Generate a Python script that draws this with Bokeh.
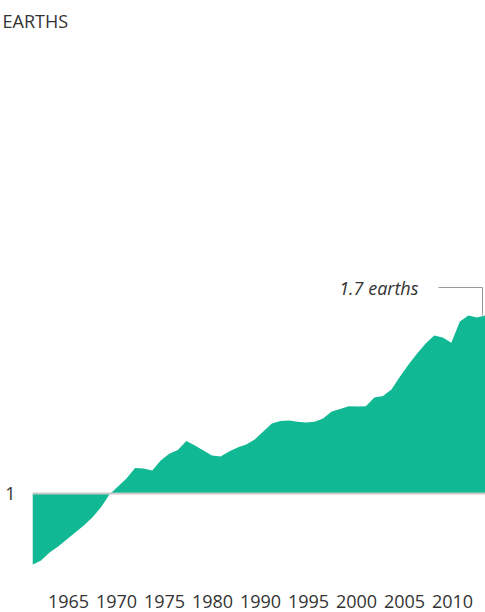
from bokeh.plotting import figure
from bokeh.models import Range1d, LinearAxis, FixedTicker, Span
from bokeh.core.properties import value
from bokeh.embed import file_html
from bokeh.resources import INLINE

# ---- data ----
years = list(range(1961, 2015))
earths = [0.720, 0.736, 0.768, 0.791, 0.819, 0.846, 0.874, 0.906, 0.945, 0.996,
          1.028, 1.059, 1.100, 1.098, 1.091, 1.130, 1.157, 1.171, 1.207, 1.189,
          1.169, 1.150, 1.146, 1.165, 1.181, 1.193, 1.213, 1.244, 1.276, 1.285,
          1.287, 1.283, 1.280, 1.283, 1.295, 1.323, 1.333, 1.344, 1.343, 1.344,
          1.378, 1.384, 1.409, 1.461, 1.508, 1.551, 1.591, 1.622, 1.614, 1.594,
          1.677, 1.701, 1.693, 1.701]
baseline = 1
tick_labels = ["1965", "1970", "1975", "1980", "1990", "1995", "2000", "2005", "2010"]
y_ticks = [1]
unit_label = "EARTHS"
end_label = f"{earths[-1]:.1f} earths"

FONT = "Open Sans"
TXT = "#333333"
GREEN = "#10b894"

p = figure(width=485, height=612, output_backend="svg", toolbar_location=None,
           x_range=Range1d(years[0], years[-1]), y_range=Range1d(0.6772, 2.8071),
           x_axis_location=None, min_border_left=32, min_border_right=0,
           min_border_top=34, min_border_bottom=37)
p.outline_line_color = None
p.xgrid.visible = False
p.ygrid.visible = False
p.background_fill_color = "white"

# title
p.title.text = unit_label
p.title.text_font = FONT
p.title.text_font_size = "18px"
p.title.text_font_style = "normal"
p.title.text_color = TXT
p.title.align = "left"
p.title.offset = -30
p.title.standoff = 4

# y axis: only the "1" tick
ya = p.yaxis[0]
ya.ticker = FixedTicker(ticks=y_ticks)
ya.axis_line_color = None
ya.major_tick_line_color = None
ya.minor_tick_line_color = None
ya.major_tick_out = 0
ya.major_label_standoff = 17
ya.major_label_text_font = FONT
ya.major_label_text_font_size = "18px"
ya.major_label_text_color = TXT

# x axis: evenly spaced label row
p.extra_x_ranges = {"lbl": Range1d(-0.75, 8.6875)}
xa = LinearAxis(x_range_name="lbl",
                ticker=FixedTicker(ticks=list(range(len(tick_labels)))),
                major_label_overrides={i: t for i, t in enumerate(tick_labels)})
xa.axis_line_color = None
xa.major_tick_line_color = None
xa.minor_tick_line_color = None
xa.major_tick_out = 0
xa.major_label_standoff = 19
xa.major_label_text_font = FONT
xa.major_label_text_font_size = "18px"
xa.major_label_text_color = TXT
p.add_layout(xa, "below")

# area between the series and the 1-earth baseline
p.varea(x=years, y1=[baseline] * len(years), y2=earths, fill_color=GREEN)

# baseline line
p.add_layout(Span(location=baseline, dimension="width", line_color="#c8c8c8", line_width=2))

# annotation leader for the last value
lead_y = earths[-1] + 0.11
lead_x0 = years[-1] - 5.5
lead_x1 = years[-1] - 0.35
p.line(x=[lead_x0, lead_x1, lead_x1], y=[lead_y, lead_y, earths[-1]],
       line_color="#999999", line_width=1)
p.text(x=[lead_x0], y=[lead_y], text=[end_label], x_offset=-20,
       text_align="right", text_baseline="middle",
       text_font=value(FONT), text_font_style="italic",
       text_font_size="18px", text_color=TXT)

open("out.html", "w").write(file_html(p, INLINE))
